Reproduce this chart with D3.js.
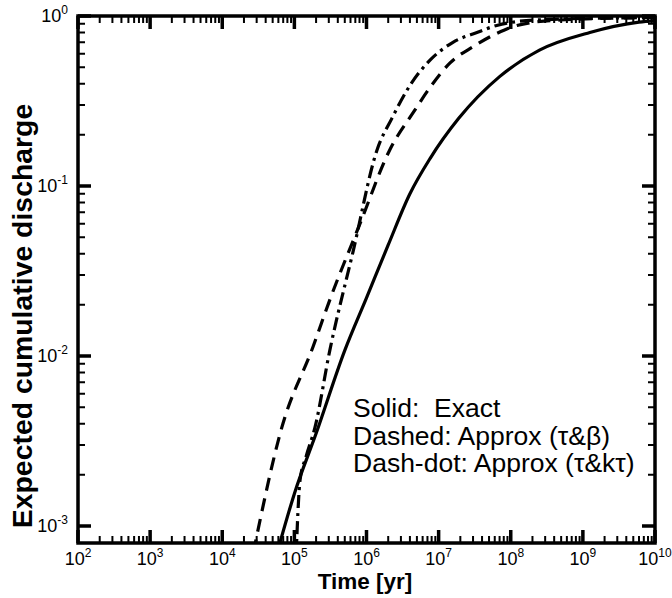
<!DOCTYPE html>
<html>
<head>
<meta charset="utf-8">
<script src="https://cdn.jsdelivr.net/npm/d3@7"></script>
<style>
  body { margin: 0; background: #fff; }
  svg { display: block; font-family: "Liberation Sans", Arial, Helvetica, sans-serif; }
</style>
</head>
<body>
<div id="chart"></div>
<script>
const width = 672, height = 598
const margin = { top: 16, right: 17, bottom: 55, left: 78 }

// decade exponents for the tick labels
const xTickPowers = [2, 3, 4, 5, 6, 7, 8, 9, 10]
const yTickPowers = [-3, -2, -1, 0]

// curves (time in yr, expected cumulative discharge)
const solidTime  = [6.0e4, 1e5, 2e5, 5e5, 1e6, 2e6, 4e6, 7.6e6, 1.9e7, 7e7, 2.5e8, 1.25e9, 6e9, 1e10]
const solidValue = [7.4e-4, 1.55e-3, 3.5e-3, 0.0108, 0.022, 0.045, 0.09, 0.145, 0.25, 0.44, 0.63, 0.8, 0.92, 0.94]

const dashedTime  = [2.7e4, 6.7e4, 1.81e5, 3.1e5, 8.1e5, 2.1e6, 4.7e6, 7.6e6, 1.44e7, 3.0e7, 6.4e7, 1.22e8, 4.8e8, 1e10]
const dashedValue = [7.0e-4, 3.8e-3, 0.0113, 0.0214, 0.0598, 0.163, 0.28, 0.38, 0.53, 0.66, 0.79, 0.88, 0.947, 0.98]

const dashDotTime  = [1.05e5, 1.2e5, 1.45e5, 1.93e5, 3.1e5, 6.5e5, 1.4e6, 2.25e6, 4.0e6, 7.6e6, 1.58e7, 3.4e7, 6.4e7, 2.5e8, 1e10]
const dashDotValue = [6.3e-4, 1.87e-3, 2.55e-3, 3.8e-3, 0.0108, 0.041, 0.163, 0.25, 0.39, 0.55, 0.70, 0.80, 0.88, 0.95, 0.98]

const legendLines = ['Solid:  Exact', 'Dashed: Approx (\u03c4&\u03b2)', 'Dash-dot: Approx (\u03c4&k\u03c4)']

const svg = d3.select('#chart')
    .append('svg')
    .attr('width', width)
    .attr('height', height)

const x = d3.scaleLog()
    .domain([1e2, 1e10])
    .range([margin.left, width - margin.right])

const y = d3.scaleLog()
    .domain([Math.pow(10, -3.1), 1])
    .range([height - margin.bottom, margin.top])

const plotLeft = margin.left, plotRight = width - margin.right
const plotTop = margin.top, plotBottom = height - margin.bottom

svg.append('clipPath')
    .attr('id', 'plot-clip')
    .append('rect')
    .attr('x', plotLeft)
    .attr('y', plotTop)
    .attr('width', plotRight - plotLeft)
    .attr('height', plotBottom - plotTop)

// major and minor tick positions
const xMajor = xTickPowers.map(p => Math.pow(10, p))
const xMinor = []
xTickPowers.slice(0, -1).forEach(p => {
    for (let m = 2; m <= 9; m++) xMinor.push(m * Math.pow(10, p))
})
const yMajor = yTickPowers.map(p => Math.pow(10, p))
const yMinor = []
yTickPowers.slice(0, -1).forEach(p => {
    for (let m = 2; m <= 9; m++) yMinor.push(m * Math.pow(10, p))
})

const series = [
    { time: solidTime, value: solidValue, dash: null },
    { time: dashedTime, value: dashedValue, dash: '13,8' },
    { time: dashDotTime, value: dashDotValue, dash: '13,5,3,5' },
]

const line = d3.line()
    .x(d => x(d[0]))
    .y(d => y(d[1]))
    .curve(d3.curveMonotoneX)

svg.append('g')
    .attr('clip-path', 'url(#plot-clip)')
    .selectAll('path')
    .data(series)
    .join('path')
    .attr('fill', 'none')
    .attr('stroke', 'black')
    .attr('stroke-width', 3.2)
    .attr('stroke-dasharray', d => d.dash)
    .attr('d', d => line(d.time.map((t, i) => [t, d.value[i]])))

// inward ticks on all four sides, each set drawn as one path
const tickSets = [
    { xs: xMinor, ys: yMinor, len: 7, w: 2 },
    { xs: xMajor, ys: yMajor, len: 13, w: 3.5 },
]

tickSets.forEach(s => {
    const path = d3.path()
    s.xs.forEach(v => {
        const px = x(v)
        path.moveTo(px, plotBottom); path.lineTo(px, plotBottom - s.len)
        path.moveTo(px, plotTop); path.lineTo(px, plotTop + s.len)
    })
    s.ys.forEach(v => {
        const py = y(v)
        path.moveTo(plotLeft, py); path.lineTo(plotLeft + s.len, py)
        path.moveTo(plotRight, py); path.lineTo(plotRight - s.len, py)
    })
    svg.append('path')
        .attr('d', path.toString())
        .attr('fill', 'none')
        .attr('stroke', 'black')
        .attr('stroke-width', s.w)
})

// frame
svg.append('rect')
    .attr('x', plotLeft)
    .attr('y', plotTop)
    .attr('width', plotRight - plotLeft)
    .attr('height', plotBottom - plotTop)
    .attr('fill', 'none')
    .attr('stroke', 'black')
    .attr('stroke-width', 3.5)

// tick labels as 10 with superscript exponent
svg.append('g')
    .selectAll('text')
    .data(xTickPowers)
    .join('text')
    .attr('x', p => x(Math.pow(10, p)))
    .attr('y', plotBottom + 22)
    .attr('text-anchor', 'middle')
    .attr('font-size', 18)
    .call(text => text.append('tspan').text('10'))
    .call(text => text.append('tspan')
        .attr('dy', -8)
        .attr('font-size', 12)
        .text(p => p))

svg.append('g')
    .selectAll('text')
    .data(yTickPowers)
    .join('text')
    .attr('x', plotLeft - 10)
    .attr('y', p => y(Math.pow(10, p)) + 6)
    .attr('text-anchor', 'end')
    .attr('font-size', 18)
    .call(text => text.append('tspan').text('10'))
    .call(text => text.append('tspan')
        .attr('dy', -8)
        .attr('font-size', 12)
        .text(p => p))

// axis titles
svg.append('text')
    .attr('x', 365)
    .attr('y', 589)
    .attr('text-anchor', 'middle')
    .attr('font-size', 22.5)
    .attr('font-weight', 'bold')
    .text('Time [yr]')

svg.append('text')
    .attr('transform', 'translate(32,316) rotate(-90)')
    .attr('text-anchor', 'middle')
    .attr('font-size', 28.4)
    .attr('font-weight', 'bold')
    .text('Expected cumulative discharge')

// legend text
svg.append('g')
    .selectAll('text')
    .data(legendLines)
    .join('text')
    .attr('x', 353)
    .attr('y', (d, i) => 417 + i * 27.5)
    .attr('font-size', 26.5)
    .style('white-space', 'pre')
    .text(d => d)
</script>
</body>
</html>
